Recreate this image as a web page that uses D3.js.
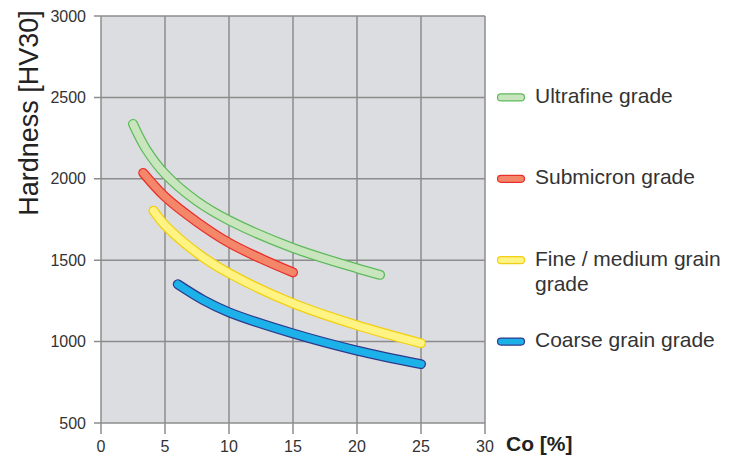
<!DOCTYPE html>
<html><head><meta charset="utf-8">
<script src="https://cdn.jsdelivr.net/npm/d3@7"></script>
<style>body{margin:0;background:#fff}svg{display:block;font-family:"Liberation Sans",Arial,Helvetica,sans-serif}</style>
</head><body><svg id="c" width="738" height="459"></svg>
<script>
const xTicks = [0,5,10,15,20,25,30];
const yTicks = [500,1000,1500,2000,2500,3000];
const seriesNames = ["Ultrafine grade","Submicron grade","Fine / medium grain grade","Coarse grain grade"];
const legendLines = [["Ultrafine grade"],["Submicron grade"],["Fine / medium grain","grade"],["Coarse grain grade"]];
const legendAt = [2500,2000,1500,1000];
const ultrafine = [[2.5,2337],[3.5,2185],[5,2030],[7.5,1862],[10,1745],[15,1575],[20,1450],[21.8,1410]];
const submicron = [[3.3,2036],[5,1890],[7.5,1735],[10,1607],[12.5,1510],[15,1425]];
const fineMedium = [[4.1,1804],[5,1715],[7.5,1545],[10,1420],[15,1235],[20,1100],[25,990]];
const coarse = [[6,1352],[8,1255],[10,1180],[15,1050],[20,945],[25,862]];
const fills = ["#c9e5bd","#f4876a","#fff383","#1db1ea"];
const strokes = ["#5dba5b","#e8302a","#f2cf10","#2e3a8c"];
const data = [ultrafine, submicron, fineMedium, coarse];

const svg = d3.select("#c");
const x = d3.scaleLinear().domain([0,30]).range([101,485]);
const y = d3.scaleLinear().domain([500,3000]).range([423,16]);
const grid = "#8c8c8c";

svg.append("rect").attr("x",x(0)).attr("y",y(3000)).attr("width",x(30)-x(0)).attr("height",y(500)-y(3000)).attr("fill","#dcdde0");

svg.append("g").selectAll("line").data(xTicks).join("line")
  .attr("x1",d=>x(d)).attr("x2",d=>x(d)).attr("y1",y(3000)).attr("y2",y(500)+11)
  .attr("stroke",grid).attr("stroke-width",1.5);
svg.append("g").selectAll("line").data(yTicks).join("line")
  .attr("y1",d=>y(d)).attr("y2",d=>y(d)).attr("x1",x(0)-7).attr("x2",x(30))
  .attr("stroke",grid).attr("stroke-width",1.5);

svg.append("g").selectAll("text").data(xTicks).join("text")
  .attr("x",d=>x(d)).attr("y",452).attr("text-anchor","middle")
  .attr("font-size",16).attr("fill","#333").text(d=>d);
svg.append("g").selectAll("text").data(yTicks).join("text")
  .attr("x",86).attr("y",d=>y(d)+5.5).attr("text-anchor","end")
  .attr("font-size",16).attr("fill","#333").text(d=>d);

svg.append("text").attr("x",506).attr("y",451).attr("font-size",21).attr("font-weight","bold").attr("fill","#222").text("Co [%]");
svg.append("text").attr("transform","translate(38,113) rotate(-90)").attr("text-anchor","middle")
  .attr("font-size",27).attr("fill","#222").text("Hardness [HV30]");

const line = d3.line().x(d=>x(d[0])).y(d=>y(d[1])).curve(d3.curveCatmullRom.alpha(0.5));
data.forEach((s,i)=>{
  const g = svg.append("g");
  g.append("path").attr("d",line(s)).attr("fill","none").attr("stroke",strokes[i]).attr("stroke-width",10).attr("stroke-linecap","round");
  g.append("path").attr("d",line(s)).attr("fill","none").attr("stroke",fills[i]).attr("stroke-width",7.5).attr("stroke-linecap","round");
});

seriesNames.forEach((n,i)=>{
  const cy = y(legendAt[i]);
  svg.append("rect").attr("x",497.5).attr("y",cy-3.5).attr("width",27).attr("height",7).attr("rx",3.5)
    .attr("fill",fills[i]).attr("stroke",strokes[i]).attr("stroke-width",1.2);
  const t = svg.append("text").attr("x",535).attr("y",cy+5.5).attr("font-size",21).attr("fill","#333");
  legendLines[i].forEach((l,j)=>t.append("tspan").attr("x",535).attr("dy",j?25:0).text(l));
});
</script></body></html>
